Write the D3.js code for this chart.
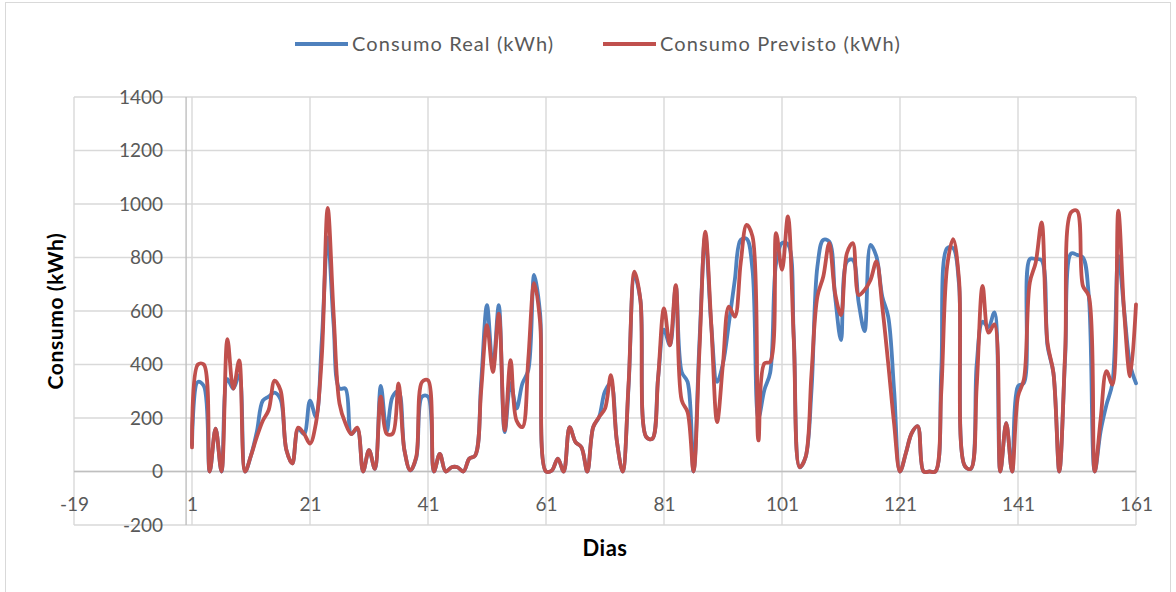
<!DOCTYPE html>
<html>
<head>
<meta charset="utf-8">
<script src="https://cdn.jsdelivr.net/npm/d3@7/dist/d3.min.js"></script>
<style>
  html, body { margin: 0; padding: 0; background: #ffffff; }
  svg { display: block; font-family: Lato, "Open Sans", sans-serif; }
</style>
</head>
<body>
<svg id="chart" width="1176" height="592"></svg>
<script>
// Daily energy use: measured vs forecast (kWh), days 1..161
const days = d3.range(1, 162);

const consumoReal = [
  100, 335, 320, 0, 160, 0, 345, 310, 360, 0,
  60, 150, 265, 280, 295, 270, 80, 30, 160, 140,
  265, 205, 490, 875, 550, 310, 310, 140, 160, 0,
  80, 10, 320, 150, 280, 300, 80, 4, 50, 280,
  280, 0, 66, 0, 16, 16, 0, 48, 60, 330,
  622, 385, 622, 147, 330, 235, 329, 379, 735, 590,
  0, 4, 48, 0, 166, 110, 91, 0, 166, 204,
  300, 330, 116, 0, 320, 730, 641, 129, 122, 350,
  530, 472, 690, 372, 335, 0, 480, 880, 550, 335,
  404, 554, 716, 866, 870, 754, 200, 304, 370, 779,
  854, 850, 500, 16, 54, 304, 766, 866, 860, 654,
  491, 785, 791, 630, 525, 847, 804, 654, 579, 304,
  0, 69, 144, 169, 0, 0, 0, 380, 835, 835,
  700, 20, 10, 400, 560, 540, 595, 0, 181, 0,
  319, 331, 794, 794, 790, 470, 369, 0, 430, 815,
  810, 800, 656, 0, 150, 250, 330, 806, 600, 400,
  330
];

const consumoPrevisto = [
  90, 400, 400, 0, 160, 0, 495, 310, 415, 0,
  60, 130, 190, 230, 340, 304, 80, 30, 164, 141,
  104, 180, 430, 985, 590, 254, 180, 140, 164, 0,
  80, 10, 280, 141, 141, 329, 80, 4, 54, 335,
  341, 0, 66, 0, 16, 16, 0, 48, 60, 300,
  547, 372, 590, 154, 416, 191, 166, 420, 704, 560,
  0, 4, 48, 0, 166, 110, 91, 0, 166, 204,
  235, 360, 116, 0, 330, 747, 641, 129, 122, 350,
  610, 472, 697, 266, 222, 0, 450, 897, 554, 185,
  404, 616, 579, 779, 922, 879, 116, 404, 410, 891,
  754, 954, 491, 16, 54, 366, 654, 729, 854, 666,
  585, 816, 854, 660, 679, 716, 785, 616, 404, 179,
  0, 69, 144, 169, 0, 0, 0, 300, 769, 869,
  719, 20, 10, 319, 694, 519, 550, 0, 181, 0,
  281, 344, 706, 781, 931, 481, 369, 0, 450, 969,
  975, 694, 656, 0, 194, 375, 325, 975, 594, 356,
  625
];

const seriesNames = ["Consumo Real (kWh)", "Consumo Previsto (kWh)"];
const xTicks = [-19, 1, 21, 41, 61, 81, 101, 121, 141, 161];
const yTicks = [-200, 0, 200, 400, 600, 800, 1000, 1200, 1400];

const colors = ["#4F81BD", "#C0504D"];
const textColor = "#595959";
const gridColor = "#d9d9d9";
const axisColor = "#bfbfbf";

const svg = d3.select("#chart");

// chart frame
svg.append("rect")
  .attr("x", 5.5).attr("y", 2.5)
  .attr("width", 1165).attr("height", 610)
  .attr("fill", "#ffffff")
  .attr("stroke", gridColor).attr("stroke-width", 1);

const x = d3.scaleLinear().domain([-19, 161]).range([74, 1136]);
const y = d3.scaleLinear().domain([-200, 1400]).range([525, 97]);

// gridlines
const grid = svg.append("g");
grid.selectAll("line.h").data(yTicks).join("line")
  .attr("class", "h")
  .attr("x1", x(-19)).attr("x2", x(161))
  .attr("y1", d => y(d)).attr("y2", d => y(d))
  .attr("stroke", gridColor).attr("stroke-width", 1.4);
grid.selectAll("line.v").data(xTicks).join("line")
  .attr("class", "v")
  .attr("x1", d => x(d)).attr("x2", d => x(d))
  .attr("y1", y(1400)).attr("y2", y(-200))
  .attr("stroke", gridColor).attr("stroke-width", 1.4);

// axis lines through the origin
svg.append("line")
  .attr("x1", x(-19)).attr("x2", x(161))
  .attr("y1", y(0)).attr("y2", y(0))
  .attr("stroke", axisColor).attr("stroke-width", 1.4);
svg.append("line")
  .attr("x1", x(0)).attr("x2", x(0))
  .attr("y1", y(1400)).attr("y2", y(-200))
  .attr("stroke", axisColor).attr("stroke-width", 1.4);

// tick labels (plain hyphen for negatives)
const fmt = d => String(d);
const xAxis = svg.append("g")
  .attr("transform", `translate(0,${y(0)})`)
  .call(d3.axisBottom(x).tickValues(xTicks).tickFormat(fmt).tickSize(0).tickPadding(26));
const yAxis = svg.append("g")
  .attr("transform", `translate(${x(0)},0)`)
  .call(d3.axisLeft(y).tickValues(yTicks).tickFormat(fmt).tickSize(0).tickPadding(23));
[xAxis, yAxis].forEach(g => {
  g.select(".domain").remove();
  g.selectAll("text")
    .attr("fill", textColor)
    .style("font-family", "Lato, sans-serif")
    .style("font-size", "19px");
});

// series lines
const line = d3.line()
  .x((d, i) => x(days[i]))
  .y(d => y(d))
  .curve(d3.curveCatmullRom.alpha(0.5));

[consumoReal, consumoPrevisto].forEach((values, k) => {
  svg.append("path")
    .datum(values)
    .attr("d", line)
    .attr("fill", "none")
    .attr("stroke", colors[k])
    .attr("stroke-width", 3.8)
    .attr("stroke-linejoin", "round")
    .attr("stroke-linecap", "round");
});

// axis titles
svg.append("text")
  .attr("transform", `translate(63,311) rotate(-90)`)
  .attr("text-anchor", "middle")
  .attr("fill", "#000")
  .style("font-weight", "bold")
  .style("font-size", "21px")
  .style("letter-spacing", "0.6px")
  .text("Consumo (kWh)");
svg.append("text")
  .attr("x", 605).attr("y", 556)
  .attr("text-anchor", "middle")
  .attr("fill", "#000")
  .style("font-weight", "bold")
  .style("font-size", "22px")
  .style("letter-spacing", "0.5px")
  .text("Dias");

// legend
const legendX = [295, 603];
seriesNames.forEach((name, k) => {
  const g = svg.append("g").attr("transform", `translate(${legendX[k]},44)`);
  g.append("line")
    .attr("x1", 0).attr("x2", 53)
    .attr("stroke", colors[k]).attr("stroke-width", 4);
  g.append("text")
    .attr("x", 57).attr("dy", "0.35em")
    .attr("fill", textColor)
    .style("font-size", "20px")
    .style("letter-spacing", "1.1px")
    .text(name);
});
</script>
</body>
</html>
